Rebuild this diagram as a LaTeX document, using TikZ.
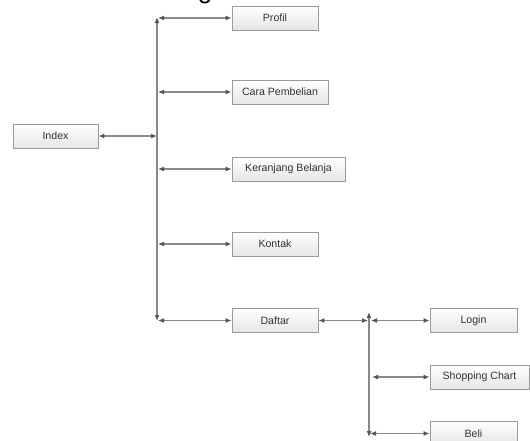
\documentclass[tikz,border=0pt]{standalone}
\usepackage{fontspec}
\setmainfont{Liberation Sans}
\usetikzlibrary{arrows.meta}
\definecolor{linegray}{HTML}{8A8A8A}
\definecolor{tipgray}{HTML}{555555}
\definecolor{boxedge}{HTML}{9A9A9A}
\definecolor{txt}{HTML}{333333}
\tikzset{
  menubox/.style={draw=boxedge, line width=0.9pt, top color=white, bottom color=black!10,
    minimum height=24pt, inner sep=0pt, font=\fontsize{10.6}{12}\selectfont, text=txt},
  link/.style={draw=linegray, line width=1.3pt,
    {Latex[length=6pt,width=5pt,color=tipgray]}-{Latex[length=6pt,width=5pt,color=tipgray]}}
}
\begin{document}
\begin{tikzpicture}[x=1pt,y=-1pt]
\useasboundingbox (0,0) rectangle (530,440);
% partly visible heading above the picture
\node[anchor=base, font=\fontsize{26}{30}\selectfont, text=black, inner sep=0pt] (head) at (205,-1.5) {g};

% menu boxes
\node[menubox, minimum width=85pt]  (index) at (55.5,136) {Index};
\node[menubox, minimum width=86pt]  (profil) at (275,18) {Profil};
\node[menubox, minimum width=96pt]  (cara) at (280,92) {Cara Pembelian};
\node[menubox, minimum width=113pt] (keranjang) at (288.5,169) {Keranjang Belanja};
\node[menubox, minimum width=86pt]  (kontak) at (275,244) {Kontak};
\node[menubox, minimum width=86pt]  (daftar) at (275,320.5) {Daftar};
\node[menubox, minimum width=87pt]  (login) at (473.5,320.5) {Login};
\node[menubox, minimum width=99pt]  (shop) at (479.5,377) {Shopping Chart};
\node[menubox, minimum width=87pt]  (beli) at (473.5,433.5) {Beli};

% first distribution bus
\coordinate (busAtop) at (157,17);
\coordinate (busAbot) at (157,321);
\coordinate (busAidx) at (157,136);
\coordinate (busAp) at (158,18);
\coordinate (busAc) at (158,92);
\coordinate (busAk) at (158,169);
\coordinate (busAo) at (158,244);
\coordinate (busAd) at (158,320.5);
\draw[link] (busAbot) -- (busAtop);
\draw[link] (index.east) -- (busAidx);
\draw[link] (busAp) -- (profil.west);
\draw[link] (busAc) -- (cara.west);
\draw[link] (busAk) -- (keranjang.west);
\draw[link] (busAo) -- (kontak.west);
\draw[link] (busAd) -- (daftar.west);

% second distribution bus
\coordinate (busBtop) at (369,312);
\coordinate (busBbot) at (369,437);
\coordinate (busBin) at (368,320.5);
\coordinate (busBl) at (371,320.5);
\coordinate (busBs) at (372,377);
\coordinate (busBb) at (370,433.5);
\draw[link] (busBbot) -- (busBtop);
\draw[link] (daftar.east) -- (busBin);
\draw[link] (busBl) -- (login.west);
\draw[link] (busBs) -- (shop.west);
\draw[link] (busBb) -- (beli.west);
\end{tikzpicture}
\end{document}
